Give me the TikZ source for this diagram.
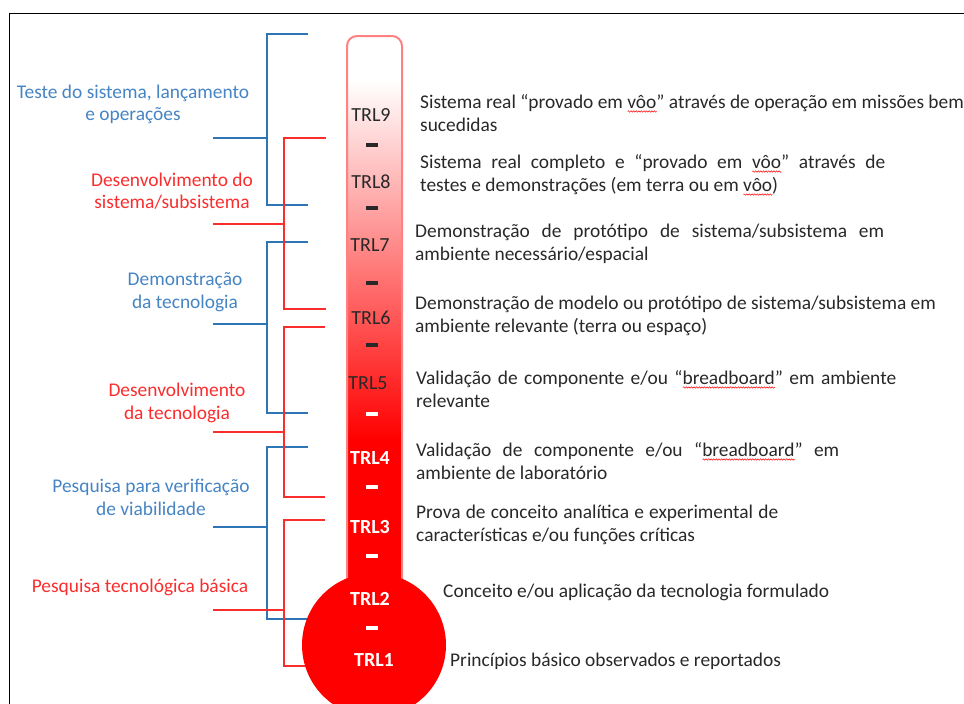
\documentclass[tikz,border=0pt]{standalone}
\usepackage{fontspec}
\setmainfont{Carlito}
\usetikzlibrary{decorations.pathmorphing}
\definecolor{barblue}{RGB}{46,117,182}
\definecolor{labelblue}{RGB}{70,132,196}
\definecolor{barred}{RGB}{250,45,45}
\definecolor{tuberim}{RGB}{255,130,130}
\definecolor{textgray}{RGB}{40,40,40}
\newsavebox\spellbox
\newcommand{\spell}[1]{\sbox\spellbox{#1}\rlap{\raisebox{-4pt}{\tikz\draw[red,line width=0.5pt,decorate,decoration={snake,amplitude=0.7pt,segment length=2.6pt}] (0pt,0pt) -- (\wd\spellbox,0pt);}}\usebox\spellbox}

\begin{document}
\begin{tikzpicture}[x=1pt,y=-1pt,
    desc/.style={anchor=west,inner sep=0pt,align=left,text=textgray,font=\fontsize{19.4}{23}\selectfont},
    phase/.style={inner sep=0pt,align=center,font=\fontsize{19.4}{22.5}\selectfont},
    trl/.style={inner sep=0pt,text=textgray,font=\fontsize{20}{20}\selectfont},
    trlw/.style={inner sep=0pt,text=white,font=\fontsize{20}{20}\selectfont\bfseries},
    tick/.style={inner sep=0pt,fill=#1,minimum width=12pt,minimum height=4pt},
    bracket/.style={line width=1.6pt}]
        \useasboundingbox (0,0) rectangle (964,704);
        \draw[line width=1.5pt] (9.5,704) -- (9.5,13.5) -- (964,13.5);

        % blue brackets
        \draw[bracket,barblue] (308,34) -| (267,205) -- (308,205);
        \draw[bracket,barblue] (213,138) -- (267,138);
        \draw[bracket,barblue] (308,242) -| (267,413) -- (308,413);
        \draw[bracket,barblue] (213,324) -- (267,324);
        \draw[bracket,barblue] (308,447) -| (267,619) -- (330,619);
        \draw[bracket,barblue] (213,527) -- (267,527);
        % red brackets
        \draw[bracket,barred] (326,138) -| (284,309) -- (326,309);
        \draw[bracket,barred] (213,224) -- (284,224);
        \draw[bracket,barred] (325,327) -| (284,497) -- (325,497);
        \draw[bracket,barred] (213,432) -- (284,432);
        \draw[bracket,barred] (325,520) -| (284,666) -- (330,666);
        \draw[bracket,barred] (213,610) -- (284,610);

        % thermometer
        \begin{scope}
            \clip[rounded corners=10pt] (347,36) rectangle (402,640);
            \fill[white] (340,30) rectangle (410,80);
            \shade[top color=white,bottom color=red] (340,80) rectangle (410,440);
            \fill[red] (340,440) rectangle (410,645);
        \end{scope}
        \draw[tuberim,line width=2pt,rounded corners=10pt] (347,600) -- (347,36) -- (402,36) -- (402,600);
        \fill[red] (374,645) circle (72);

        \node[trl] (trl9) at (371,115) {TRL9};
        \node[tick=textgray] (dash9) at (372,145) {};
        \node[trl] (trl8) at (371,182) {TRL8};
        \node[tick=textgray] (dash8) at (372,208) {};
        \node[trl] (trl7) at (370,245) {TRL7};
        \node[tick=textgray] (dash7) at (372,283) {};
        \node[trl] (trl6) at (371,318) {TRL6};
        \node[tick=textgray] (dash6) at (372,345) {};
        \node[trl] (trl5) at (368,383) {TRL5};
        \node[tick=white] (dash5) at (372,414) {};
        \node[trlw] (trl4) at (370,458) {TRL4};
        \node[tick=white] (dash4) at (372,487) {};
        \node[trlw] (trl3) at (370,527) {TRL3};
        \node[tick=white] (dash3) at (372,556) {};
        \node[trlw] (trl2) at (370,599) {TRL2};
        \node[tick=white] (dash2) at (372,628) {};
        \node[trlw] (trl1) at (374,660) {TRL1};

        % phases
        \node[phase,text=labelblue] (teste) at (133,104.5) {Teste do sistema, lançamento\\e operações};
        \node[phase,text=barred] (devsis) at (172,191) {Desenvolvimento do\\sistema/subsistema};
        \node[phase,text=labelblue] (demo) at (185,292) {Demonstração\\da tecnologia};
        \node[phase,text=barred] (devtec) at (177,403) {Desenvolvimento\\da tecnologia};
        \node[phase,text=labelblue] (viab) at (151,497.5) {Pesquisa para verificação\\de viabilidade};
        \node[phase,text=barred] (basica) at (140,587) {Pesquisa tecnológica básica};

        % descriptions
        \node[desc] (d9) at (420,113) {Sistema real “provado em \spell{vôo}” através de operação em missões bem\\sucedidas};
        \node[desc] (d8) at (420,175) {\makebox[465pt][s]{Sistema real completo e “provado em \spell{vôo}” através de}\\testes e demonstrações (em terra ou em \spell{vôo})};
        \node[desc] (d7) at (415,244) {\makebox[469pt][s]{Demonstração de protótipo de sistema/subsistema em}\\ambiente necessário/espacial};
        \node[desc] (d6) at (415,316) {Demonstração de modelo ou protótipo de sistema/subsistema em\\ambiente relevante (terra ou espaço)};
        \node[desc] (d5) at (416,389) {\makebox[480pt][s]{Validação de componente e/ou “\spell{breadboard}” em ambiente}\\relevante};
        \node[desc] (d4) at (416,461) {\makebox[423pt][s]{Validação de componente e/ou “\spell{breadboard}” em}\\ambiente de laboratório};
        \node[desc] (d3) at (416,525) {\makebox[362pt][s]{Prova de conceito analítica e experimental de}\\características e/ou funções críticas};
        \node[desc] (d2) at (443,592) {Conceito e/ou aplicação da tecnologia formulado};
        \node[desc] (d1) at (450,661) {Princípios básico observados e reportados};
    \end{tikzpicture}
\end{document}
